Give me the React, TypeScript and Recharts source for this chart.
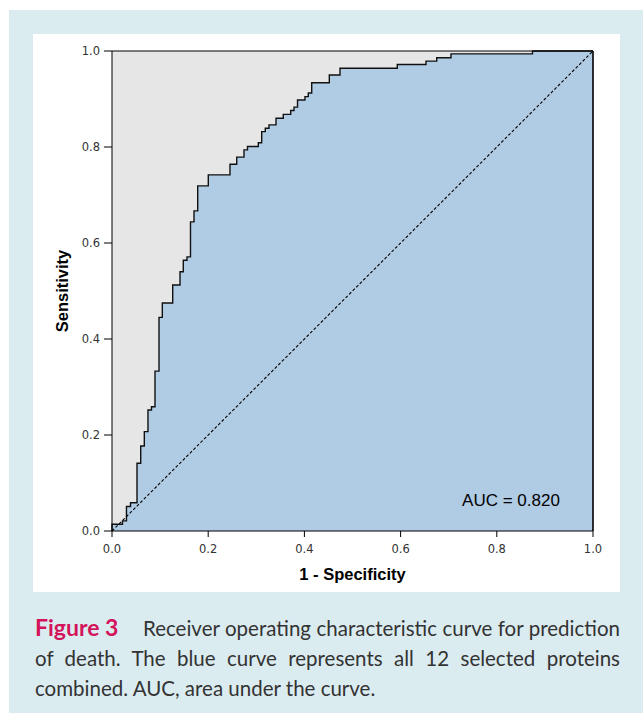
import React from 'react';
import {
  ComposedChart,
  Area,
  XAxis,
  YAxis,
  CartesianGrid,
  ReferenceLine,
  ReferenceDot,
} from 'recharts';

// ROC step points: at each false-positive rate the sensitivity rises to the given level
const fpr = [
  0, 0, 0.0218, 0.0301, 0.0385, 0.052, 0.0597, 0.0672, 0.0748, 0.0821, 0.0894,
  0.0977, 0.1046, 0.1262, 0.1414, 0.1482, 0.1559, 0.1632, 0.1705, 0.1782, 0.2002,
  0.2453, 0.2593, 0.2744, 0.2817, 0.3042, 0.3112, 0.3187, 0.3264, 0.341, 0.3561,
  0.3715, 0.3784, 0.3857, 0.4012, 0.4081, 0.4152, 0.4518, 0.474, 0.5931, 0.6528,
  0.6751, 0.7048, 0.8742, 1.0,
];
const tpr = [
  0, 0.014, 0.021, 0.051, 0.059, 0.141, 0.177, 0.207, 0.252, 0.259, 0.333,
  0.445, 0.475, 0.5125, 0.54, 0.564, 0.571, 0.644, 0.667, 0.719, 0.742,
  0.764, 0.779, 0.794, 0.801, 0.809, 0.832, 0.839, 0.846, 0.86, 0.868,
  0.876, 0.883, 0.898, 0.905, 0.9125, 0.934, 0.95, 0.964, 0.972, 0.979,
  0.986, 0.994, 1.0, 1.0,
];
const ticks = [0, 0.2, 0.4, 0.6, 0.8, 1.0];
const tickLabels = ['0.0', '0.2', '0.4', '0.6', '0.8', '1.0'];
const aucText = 'AUC = 0.820';
const xTitle = '1 - Specificity';
const yTitle = 'Sensitivity';

const data = fpr.map((x, i) => ({ fpr: x, tpr: tpr[i] }));
const fmt = (v: number) => {
  const i = ticks.findIndex((t) => Math.abs(t - v) < 1e-9);
  return i >= 0 ? tickLabels[i] : String(v);
};

const tickStyle = { fontFamily: 'DejaVu Sans', fontSize: 11.5, fill: '#333' };
const titleStyle = {
  fontFamily: 'Liberation Sans',
  fontWeight: 'bold',
  fontSize: 16.5,
  fill: '#000',
};

export default function App() {
  return (
    <div
      style={{
        position: 'absolute',
        left: 0,
        top: 0,
        width: 643,
        height: 713,
        background: '#fff',
        overflow: 'hidden',
      }}
    >
      <div
        style={{
          position: 'absolute',
          left: 9,
          top: 10,
          width: 634,
          height: 703,
          background: '#dbecf1',
        }}
      />
      <div
        style={{
          position: 'absolute',
          left: 33,
          top: 34,
          width: 587,
          height: 558,
          background: '#fff',
        }}
      />
      <div style={{ position: 'absolute', left: 0, top: 0 }}>
        <ComposedChart
          width={643}
          height={713}
          data={data}
          margin={{ top: 51, right: 50, bottom: 132, left: 62 }}
        >
          <CartesianGrid
            fill="#e6e6e6"
            horizontal={false}
            vertical={false}
            stroke="none"
          />
          <XAxis
            dataKey="fpr"
            type="number"
            domain={[0, 1]}
            ticks={ticks}
            tickFormatter={fmt}
            height={50}
            tickSize={6}
            tickMargin={8}
            stroke="#000"
            tick={tickStyle}
            label={{
              value: xTitle,
              position: 'insideBottom',
              offset: 1,
              ...titleStyle,
            }}
          />
          <YAxis
            type="number"
            domain={[0, 1]}
            ticks={ticks}
            tickFormatter={fmt}
            width={50}
            tickSize={8}
            tickMargin={4}
            stroke="#000"
            tick={tickStyle}
            label={{
              value: yTitle,
              angle: -90,
              position: 'insideLeft',
              offset: 0,
              textAnchor: 'middle',
              ...titleStyle,
            }}
          />
          <Area
            type="stepAfter"
            dataKey="tpr"
            stroke="#111"
            strokeWidth={1.4}
            fill="#b0cbe4"
            fillOpacity={1}
            isAnimationActive={false}
            dot={false}
            activeDot={false}
          />
          <ReferenceLine
            segment={[
              { x: 0, y: 0 },
              { x: 1, y: 1 },
            ]}
            stroke="#000"
            strokeWidth={1.1}
            strokeDasharray="3 2"
          />
          <ReferenceLine y={1} stroke="#000" strokeWidth={1} />
          <ReferenceLine x={1} stroke="#000" strokeWidth={1.6} />
          <ReferenceDot
            x={0.8295}
            y={0.0646}
            r={0}
            stroke="none"
            fill="none"
            label={{
              value: aucText,
              position: 'center',
              fontFamily: 'Liberation Sans',
              fontSize: 17,
              fill: '#000',
            }}
          />
        </ComposedChart>
      </div>
      <div
        style={{
          position: 'absolute',
          left: 35,
          top: 612,
          width: 585,
          fontFamily: 'Lato',
          fontSize: 20.5,
          lineHeight: '30px',
          color: '#333',
        }}
      >
        <div
          style={{
            textAlign: 'justify',
            textAlignLast: 'justify',
            whiteSpace: 'nowrap',
          }}
        >
          <span
            style={{
              display: 'inline-block',
              width: 108,
              textAlign: 'left',
              textAlignLast: 'left',
              color: '#d4145a',
              fontWeight: 'bold',
              fontSize: 23,
            }}
          >
            Figure 3
          </span>
          Receiver operating characteristic curve for prediction
        </div>
        <div style={{ textAlign: 'justify', textAlignLast: 'justify' }}>
          of death. The blue curve represents all 12 selected proteins
        </div>
        <div>combined. AUC, area under the curve.</div>
      </div>
    </div>
  );
}
